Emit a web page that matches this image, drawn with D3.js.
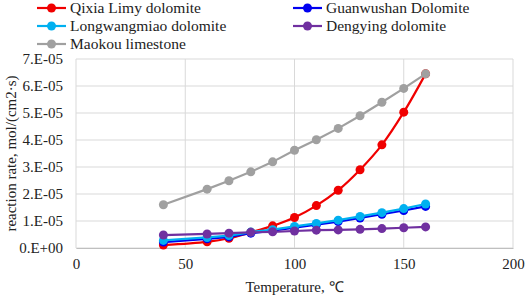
<!DOCTYPE html>
<html>
<head>
<meta charset="utf-8">
<script src="https://cdn.jsdelivr.net/npm/d3@7"></script>
<style>
  body { margin: 0; background: #fff; }
  svg text { font-family: "Liberation Serif", "Times New Roman", serif !important; fill: #222; }
</style>
</head>
<body>
<script>
// temperatures (°C)
var temps = [40, 60, 70, 80, 90, 100, 110, 120, 130, 140, 150, 160];

// reaction rates, in units of 1E-05 mol/(cm2·s)
var qixia       = [0.11, 0.23, 0.36, 0.58, 0.82, 1.13, 1.57, 2.14, 2.90, 3.82, 5.03, 6.45];
var guanwushan  = [0.22, 0.34, 0.41, 0.55, 0.64, 0.75, 0.86, 0.98, 1.11, 1.25, 1.39, 1.54];
var longwang    = [0.28, 0.39, 0.46, 0.59, 0.68, 0.80, 0.91, 1.03, 1.17, 1.31, 1.46, 1.63];
var dengying    = [0.48, 0.52, 0.55, 0.58, 0.60, 0.63, 0.66, 0.67, 0.69, 0.72, 0.75, 0.78];
var maokou      = [1.60, 2.18, 2.49, 2.82, 3.19, 3.62, 4.01, 4.43, 4.90, 5.40, 5.91, 6.45];

var seriesNames = ["Qixia Limy dolomite", "Guanwushan Dolomite", "Longwangmiao dolomite",
                   "Dengying dolomite", "Maokou limestone"];
var seriesVals = [qixia, guanwushan, longwang, dengying, maokou];
var seriesColors = ["#f00000", "#0000f0", "#00b0f0", "#7030a0", "#a0a0a0"];
var smooth = [true, false, false, false, false];

var xTicks = [0, 50, 100, 150, 200];
var yTicks = [0, 1, 2, 3, 4, 5, 6, 7];
var yTickLabels = ["0.E+00", "1.E-05", "2.E-05", "3.E-05", "4.E-05", "5.E-05", "6.E-05", "7.E-05"];

var width = 526, height = 297;
var margin = {left: 76, right: 13, top: 59, bottom: 49};
var serif = "'Liberation Serif', 'Times New Roman', serif";

var svg = d3.select("body").append("svg")
    .attr("width", width).attr("height", height);

var x = d3.scaleLinear().domain([0, 200]).range([margin.left, width - margin.right]);
var y = d3.scaleLinear().domain([0, 7]).range([height - margin.bottom, margin.top]);

// grid
svg.append("g").selectAll("line").data(yTicks).join("line")
    .attr("x1", x(0)).attr("x2", x(200))
    .attr("y1", function (d) { return y(d); }).attr("y2", function (d) { return y(d); })
    .attr("stroke", "#d9d9d9").attr("stroke-width", 1);
svg.append("g").selectAll("line").data(xTicks).join("line")
    .attr("y1", y(0)).attr("y2", y(7))
    .attr("x1", function (d) { return x(d); }).attr("x2", function (d) { return x(d); })
    .attr("stroke", "#d9d9d9").attr("stroke-width", 1);

// axes
var xAxis = svg.append("g").attr("transform", "translate(0," + y(0) + ")")
    .call(d3.axisBottom(x).tickValues(xTicks).tickSize(0).tickPadding(10))
    .attr("font-family", serif).attr("font-size", 15);
xAxis.select(".domain").attr("stroke", "#bfbfbf");

var yAxis = svg.append("g").attr("transform", "translate(" + x(0) + ",0)")
    .call(d3.axisLeft(y).tickValues(yTicks).tickSize(0).tickPadding(13)
        .tickFormat(function (d, i) { return yTickLabels[i]; }))
    .attr("font-family", serif).attr("font-size", 15);
yAxis.select(".domain").remove();

// titles
svg.append("text").attr("x", (x(0) + x(200)) / 2).attr("y", 292)
    .attr("text-anchor", "middle").attr("font-size", 15).text("Temperature, ℃");
svg.append("text").attr("transform", "translate(16," + ((y(0) + y(7)) / 2) + ") rotate(-90)")
    .attr("text-anchor", "middle").attr("font-size", 15).text("reaction rate, mol/(cm2·s)");

// series
seriesVals.forEach(function (vals, i) {
    var pts = temps.map(function (t, j) { return [t, vals[j]]; });
    var line = d3.line()
        .x(function (d) { return x(d[0]); })
        .y(function (d) { return y(d[1]); })
        .curve(smooth[i] ? d3.curveCatmullRom.alpha(0.5) : d3.curveLinear);
    var g = svg.append("g");
    g.append("path").datum(pts).attr("d", line)
        .attr("fill", "none").attr("stroke", seriesColors[i]).attr("stroke-width", 2.2);
    g.selectAll("circle").data(pts).join("circle")
        .attr("cx", function (d) { return x(d[0]); })
        .attr("cy", function (d) { return y(d[1]); })
        .attr("r", 4.5).attr("fill", seriesColors[i]);
});

// legend
var legendPos = [[37, 8], [293, 8], [37, 26], [293, 26], [37, 44]];
seriesNames.forEach(function (name, i) {
    var lg = svg.append("g").attr("transform", "translate(" + legendPos[i][0] + "," + legendPos[i][1] + ")");
    lg.append("line").attr("x1", 0).attr("x2", 29).attr("y1", 0).attr("y2", 0)
        .attr("stroke", seriesColors[i]).attr("stroke-width", 2.2);
    lg.append("circle").attr("cx", 14.5).attr("cy", 0).attr("r", 4.5).attr("fill", seriesColors[i]);
    lg.append("text").attr("x", 33).attr("y", 5).attr("font-size", 15.5).text(name);
});
</script>
</body>
</html>
